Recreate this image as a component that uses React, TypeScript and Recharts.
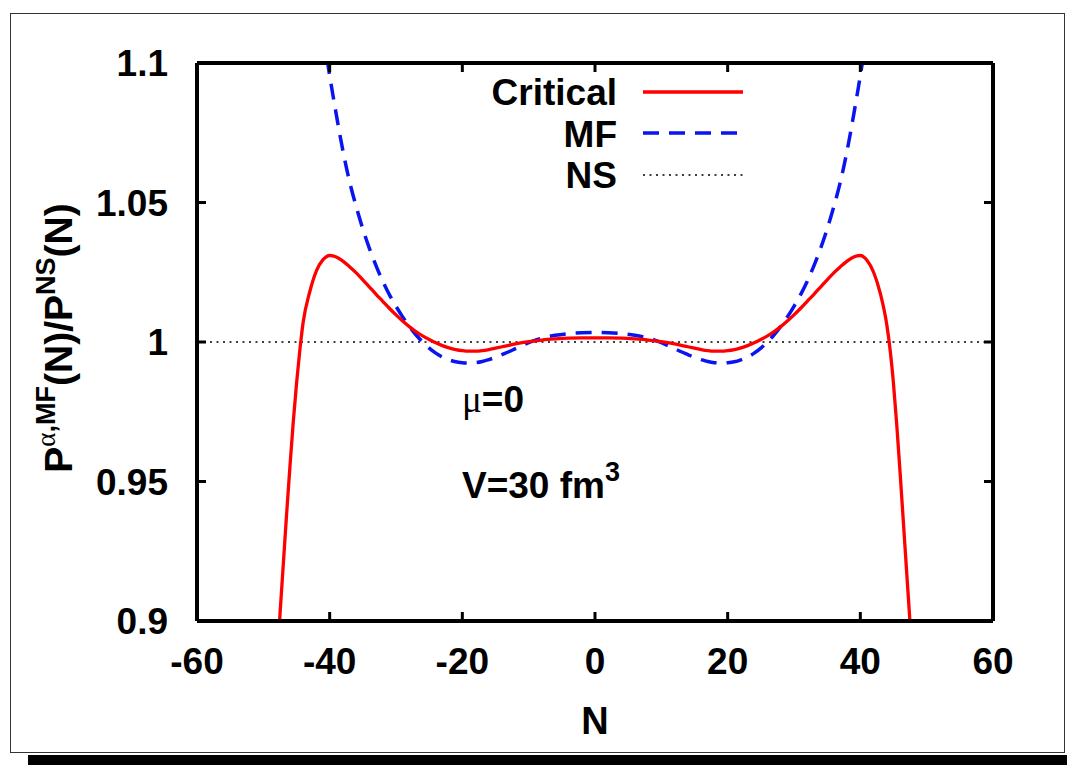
import React from "react";
import { LineChart, Line, XAxis, YAxis } from "recharts";

// ---- data ----
const criticalN = [
  -48, -47.5, -47, -46.5, -46, -45.5, -45, -44.5, -44, -43, -42, -41, -40, -39, -38, -37, -36, -35, -34, -33,
  -32, -31, -30, -29, -28, -27, -26, -25, -24, -23, -22, -21, -20, -19, -18, -17, -16, -15, -14, -12, -10,
  -8, -6, -4, -2, 0, 2, 4, 6, 8, 10, 12, 14, 15, 16, 17, 18, 19, 20, 21, 22, 23, 24, 25, 26, 27, 28, 29,
  30, 31, 32, 33, 34, 35, 36, 37, 38, 39, 40, 41, 42, 43, 44, 44.5, 45, 45.5, 46, 46.5, 47, 47.5, 48,
];
const criticalP = [
  0.883, 0.902, 0.92, 0.938, 0.955, 0.971, 0.985, 0.997, 1.007, 1.018, 1.0255, 1.0295, 1.031, 1.0305, 1.029,
  1.027, 1.0248, 1.0223, 1.0197, 1.0171, 1.0146, 1.0121, 1.0097, 1.0075, 1.0055, 1.0037, 1.0022, 1.0009,
  0.9997, 0.9987, 0.9979, 0.9973, 0.9969, 0.9967, 0.9967, 0.9969, 0.9973, 0.9978, 0.9983, 0.9993, 1.0001,
  1.0007, 1.0011, 1.0014, 1.0015, 1.0015, 1.0015, 1.0014, 1.0011, 1.0007, 1.0001, 0.9993, 0.9983, 0.9978,
  0.9973, 0.9969, 0.9967, 0.9967, 0.9969, 0.9973, 0.9979, 0.9987, 0.9997, 1.0009, 1.0022, 1.0037, 1.0055,
  1.0075, 1.0097, 1.0121, 1.0146, 1.0171, 1.0197, 1.0223, 1.0248, 1.027, 1.029, 1.0305, 1.031, 1.0293,
  1.025, 1.0175, 1.006, 0.997, 0.985, 0.97, 0.953, 0.935, 0.917, 0.899, 0.88,
];

const mfN = [
  -41, -40, -39, -38, -37, -36, -35, -34, -33, -32, -31, -30, -29, -28, -27, -26, -25, -24, -23, -22, -21,
  -20, -19, -18, -17, -16, -15, -14, -13, -12, -11, -10, -9, -8, -6, -4, -2, 0, 2, 4, 6, 8, 9, 10, 11, 12,
  13, 14, 15, 16, 17, 18, 19, 20, 21, 22, 23, 24, 25, 26, 27, 28, 29, 30, 31, 32, 33, 34, 35, 36, 37, 38,
  39, 40, 41,
];
const mfP = [
  1.111, 1.0955, 1.0815, 1.0685, 1.0575, 1.0485, 1.0405, 1.0335, 1.0273, 1.0218, 1.017, 1.0128, 1.009,
  1.0056, 1.0026, 1.0, 0.9978, 0.996, 0.9946, 0.9936, 0.9929, 0.9926, 0.9925, 0.9926, 0.993, 0.9937,
  0.9945, 0.9955, 0.9965, 0.9976, 0.9987, 0.9998, 1.0007, 1.0014, 1.0024, 1.003, 1.0033, 1.0034, 1.0033,
  1.003, 1.0024, 1.0014, 1.0007, 0.9998, 0.9987, 0.9976, 0.9965, 0.9955, 0.9945, 0.9937, 0.993, 0.9926,
  0.9925, 0.9926, 0.9929, 0.9936, 0.9946, 0.996, 0.9978, 1.0, 1.0026, 1.0056, 1.009, 1.0128, 1.017,
  1.0218, 1.0273, 1.0335, 1.0405, 1.0485, 1.0575, 1.0685, 1.0815, 1.0955, 1.111,
];

const nsN = [-60, 60];
const nsP = [1, 1];

const xTicks = [-60, -40, -20, 0, 20, 40, 60];
const yTicks = [0.9, 0.95, 1, 1.05, 1.1];

const seriesNames = ["Critical", "MF", "NS"];

const toRows = (ns: number[], ps: number[]) => ns.map((n, i) => ({ N: n, P: ps[i] }));
const criticalData = toRows(criticalN, criticalP);
const mfData = toRows(mfN, mfP);
const nsData = toRows(nsN, nsP);

const FONT = "'Liberation Sans', Arial, Helvetica, sans-serif";
const axisStroke = { stroke: "#000", strokeWidth: 4 };
const TICK_LEN = 9;
const LEFT_MARGIN = 29;
const BOTTOM_MARGIN = 27;

const LeftTick = (props: any) => {
  const { x, y, payload } = props;
  const ax = x + LEFT_MARGIN;
  return (
    <g>
      <line x1={ax} y1={y} x2={ax + TICK_LEN} y2={y} stroke="#000" strokeWidth={3} />
      <text
        x={x}
        y={y}
        dy="0.355em"
        textAnchor="end"
        fontFamily={FONT}
        fontWeight={700}
        fontSize={37}
        fill="#000"
      >
        {payload.value}
      </text>
    </g>
  );
};

const BottomTick = (props: any) => {
  const { x, y, payload } = props;
  const ay = y - BOTTOM_MARGIN;
  return (
    <g>
      <line x1={x} y1={ay} x2={x} y2={ay - TICK_LEN} stroke="#000" strokeWidth={3} />
      <text
        x={x}
        y={y}
        dy="0.71em"
        textAnchor="middle"
        fontFamily={FONT}
        fontWeight={700}
        fontSize={37}
        fill="#000"
      >
        {payload.value}
      </text>
    </g>
  );
};

const TopTick = (props: any) => {
  const { x, y } = props;
  return <line x1={x} y1={y} x2={x} y2={y + TICK_LEN} stroke="#000" strokeWidth={3} />;
};

const RightTick = (props: any) => {
  const { x, y } = props;
  return <line x1={x} y1={y} x2={x - TICK_LEN} y2={y} stroke="#000" strokeWidth={3} />;
};

export default function App() {
  return (
    <div
      style={{
        position: "absolute",
        left: 0,
        top: 0,
        width: 1067,
        height: 765,
        background: "#fff",
        overflow: "hidden",
      }}
    >
      {/* outer frame and shadow */}
      <div
        style={{
          position: "absolute",
          left: 10,
          top: 13,
          width: 1055,
          height: 740,
          border: "1.5px solid #333",
          boxSizing: "border-box",
        }}
      />
      <div style={{ position: "absolute", left: 28, top: 755, width: 1039, height: 10, background: "#000" }} />

      <div style={{ position: "absolute", left: 0, top: 0 }}>
        <LineChart
          width={1067}
          height={765}
          margin={{ top: 53, right: 64, left: 97, bottom: 84 }}
        >
          <XAxis
            xAxisId="b"
            type="number"
            dataKey="N"
            domain={[-60, 60]}
            allowDataOverflow
            ticks={xTicks}
            orientation="bottom"
            height={60}
            axisLine={axisStroke}
            tickLine={false}
            tickSize={0}
            tickMargin={BOTTOM_MARGIN}
            tick={<BottomTick />}
            interval={0}
          />
          <XAxis
            xAxisId="t"
            type="number"
            dataKey="N"
            domain={[-60, 60]}
            allowDataOverflow
            ticks={xTicks}
            orientation="top"
            height={10}
            axisLine={axisStroke}
            tickLine={false}
            tickSize={0}
            tickMargin={0}
            tick={<TopTick />}
            interval={0}
          />
          <YAxis
            yAxisId="l"
            type="number"
            domain={[0.9, 1.1]}
            ticks={yTicks}
            allowDataOverflow
            orientation="left"
            width={100}
            axisLine={axisStroke}
            tickLine={false}
            tickSize={0}
            tickMargin={LEFT_MARGIN}
            tick={<LeftTick />}
            interval={0}
          />
          <YAxis
            yAxisId="r"
            type="number"
            domain={[0.9, 1.1]}
            ticks={yTicks}
            allowDataOverflow
            orientation="right"
            width={10}
            axisLine={axisStroke}
            tickLine={false}
            tickSize={0}
            tickMargin={0}
            tick={<RightTick />}
            interval={0}
          />

          <Line
            xAxisId="b"
            yAxisId="l"
            data={nsData}
            dataKey="P"
            name={seriesNames[2]}
            type="linear"
            stroke="#000"
            strokeWidth={1.3}
            strokeDasharray="2 4.5"
            dot={false}
            isAnimationActive={false}
          />
          <Line
            xAxisId="b"
            yAxisId="l"
            data={mfData}
            dataKey="P"
            name={seriesNames[1]}
            type="monotone"
            stroke="#0a14f0"
            strokeWidth={3.5}
            strokeDasharray="16 10"
            dot={false}
            isAnimationActive={false}
          />
          <Line
            xAxisId="b"
            yAxisId="l"
            data={criticalData}
            dataKey="P"
            name={seriesNames[0]}
            type="monotone"
            stroke="#ff0000"
            strokeWidth={3.3}
            dot={false}
            isAnimationActive={false}
          />
        </LineChart>
      </div>

      {/* legend, annotations, axis titles */}
      <svg
        width={1067}
        height={765}
        style={{ position: "absolute", left: 0, top: 0, pointerEvents: "none" }}
      >
        <g fontFamily={FONT} fontWeight={700} fontSize={37} fill="#000">
          <text x={617} y={105} textAnchor="end">{seriesNames[0]}</text>
          <text x={617} y={147} textAnchor="end">{seriesNames[1]}</text>
          <text x={617} y={188} textAnchor="end">{seriesNames[2]}</text>
        </g>
        <line x1={643} y1={92} x2={743} y2={92} stroke="#ff0000" strokeWidth={3.3} />
        <line x1={643} y1={133} x2={743} y2={133} stroke="#0a14f0" strokeWidth={3.5} strokeDasharray="16 10" />
        <line x1={643} y1={175} x2={745} y2={175} stroke="#000" strokeWidth={1.3} strokeDasharray="2 4.5" />

        <text x={462} y={412} fontFamily={FONT} fontWeight={700} fontSize={37} fill="#000">
          <tspan fontFamily="'Liberation Serif', 'DejaVu Serif', serif" fontWeight={400}>μ</tspan>
          <tspan>=0</tspan>
        </text>
        <text x={462} y={498} fontFamily={FONT} fontWeight={700} fontSize={37} fill="#000">
          <tspan>V=30 fm</tspan>
          <tspan fontSize={27} dy={-17}>3</tspan>
        </text>

        <text x={595} y={734} textAnchor="middle" fontFamily={FONT} fontWeight={700} fontSize={38} fill="#000">
          N
        </text>

        <text
          transform="translate(72,338) rotate(-90)"
          x={0}
          y={0}
          textAnchor="middle"
          fontFamily={FONT}
          fontWeight={700}
          fontSize={39}
          fill="#000"
        >
          <tspan>P</tspan>
          <tspan fontSize={27} dy={-17} fontFamily="'Liberation Serif', 'DejaVu Serif', serif" fontWeight={400}>α</tspan>
          <tspan fontSize={27}>,MF</tspan>
          <tspan dy={17}>(N)/P</tspan>
          <tspan fontSize={27} dy={-17}>NS</tspan>
          <tspan dy={17}>(N)</tspan>
        </text>
      </svg>
    </div>
  );
}
